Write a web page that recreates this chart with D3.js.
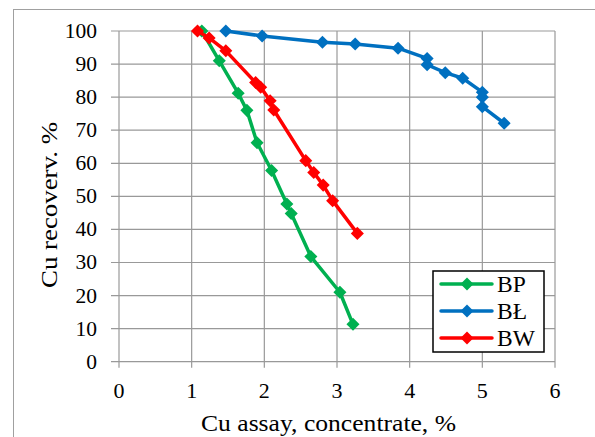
<!DOCTYPE html>
<html><head><meta charset="utf-8">
<script src="https://cdn.jsdelivr.net/npm/d3@7"></script>
<style>body{margin:0;background:#fff}svg{display:block}
text{font-family:"Liberation Serif","Times New Roman","DejaVu Serif",serif}</style>
</head><body>
<script>
const xTicks = [0,1,2,3,4,5,6];
const yTicks = [0,10,20,30,40,50,60,70,80,90,100];
const seriesNames = ["BP","BŁ","BW"];
const bpX = [1.14,1.38,1.64,1.76,1.90,2.10,2.31,2.37,2.64,3.04,3.22];
const bpY = [100,91.0,81.2,76.0,66.2,57.8,47.7,44.8,31.8,21.0,11.3];
const blX = [1.47,1.97,2.80,3.25,3.84,4.24,4.24,4.49,4.73,5.00,5.00,5.00,5.30];
const blY = [100,98.5,96.6,96.1,94.8,91.7,89.8,87.4,85.7,81.5,80.0,77.1,72.1];
const bwX = [1.08,1.24,1.47,1.88,1.95,2.08,2.13,2.57,2.68,2.81,2.94,3.28];
const bwY = [100,97.9,94.0,84.4,83.0,78.9,76.1,60.8,57.2,53.4,48.7,38.8];
const colors = ["#00B050","#0070C0","#FF0000"];

const W=595,H=437;
const svg=d3.select("body").append("svg").attr("width",W).attr("height",H);
// outer frame
svg.append("rect").attr("x",13.5).attr("y",9.5).attr("width",W).attr("height",H).attr("fill","none").attr("stroke","#a0a0a0").attr("stroke-width",1);

const x=d3.scaleLinear().domain([0,6]).range([119,555]);
const y=d3.scaleLinear().domain([0,100]).range([361.7,31]);

// grid
const g=svg.append("g");
g.selectAll(".vg").data(xTicks).join("line").attr("x1",d=>x(d)).attr("x2",d=>x(d)).attr("y1",y(100)).attr("y2",y(0)+6).attr("stroke","#999").attr("stroke-width",1.2);
g.selectAll(".hg").data(yTicks).join("line").attr("x1",x(0)-8).attr("x2",x(6)).attr("y1",d=>y(d)).attr("y2",d=>y(d)).attr("stroke","#999").attr("stroke-width",1.2);

// tick labels
svg.append("g").selectAll("text").data(yTicks).join("text").attr("x",97).attr("y",d=>y(d)+7).attr("text-anchor","end")
  .attr("font-size",21.5).text(d=>d);
svg.append("g").selectAll("text").data(xTicks).join("text").attr("x",d=>x(d)).attr("y",398).attr("text-anchor","middle")
  .attr("font-size",22).text(d=>d);

// axis titles
svg.append("text").attr("x",201).attr("y",431).attr("font-size",24)
  .attr("textLength",255).attr("lengthAdjust","spacingAndGlyphs").text("Cu assay, concentrate, %");
svg.append("text").attr("transform","translate(57,288) rotate(-90)").attr("font-size",24)
  .attr("textLength",166).attr("lengthAdjust","spacingAndGlyphs").text("Cu recoverv. %");

const series=[[bpX,bpY],[blX,blY],[bwX,bwY]].map(([xs,ys],i)=>({name:seriesNames[i],color:colors[i],pts:xs.map((v,j)=>[v,ys[j]])}));
const line=d3.line().x(d=>x(d[0])).y(d=>y(d[1]));
const sq=d3.symbol().type(d3.symbolSquare).size(85);

series.forEach(s=>{
  svg.append("path").attr("d",line(s.pts)).attr("fill","none").attr("stroke",s.color).attr("stroke-width",3.5).attr("stroke-linejoin","round");
  svg.append("g").selectAll("path").data(s.pts).join("path")
    .attr("transform",d=>`translate(${x(d[0])},${y(d[1])}) rotate(45)`)
    .attr("d",sq).attr("fill",s.color);
});

// legend
const lg=svg.append("g");
lg.append("rect").attr("x",433).attr("y",271).attr("width",111).attr("height",81).attr("fill","#fff").attr("stroke","#000").attr("stroke-width",1.5);
series.forEach((s,i)=>{
  const yy=284+i*27;
  lg.append("line").attr("x1",441).attr("x2",492).attr("y1",yy).attr("y2",yy).attr("stroke",s.color).attr("stroke-width",3.5).attr("stroke-linecap","round");
  lg.append("path").attr("transform",`translate(467,${yy}) rotate(45)`).attr("d",sq).attr("fill",s.color);
  lg.append("text").attr("x",497).attr("y",yy+8).attr("font-size",23.5).text(s.name);
});
</script>
</body></html>
